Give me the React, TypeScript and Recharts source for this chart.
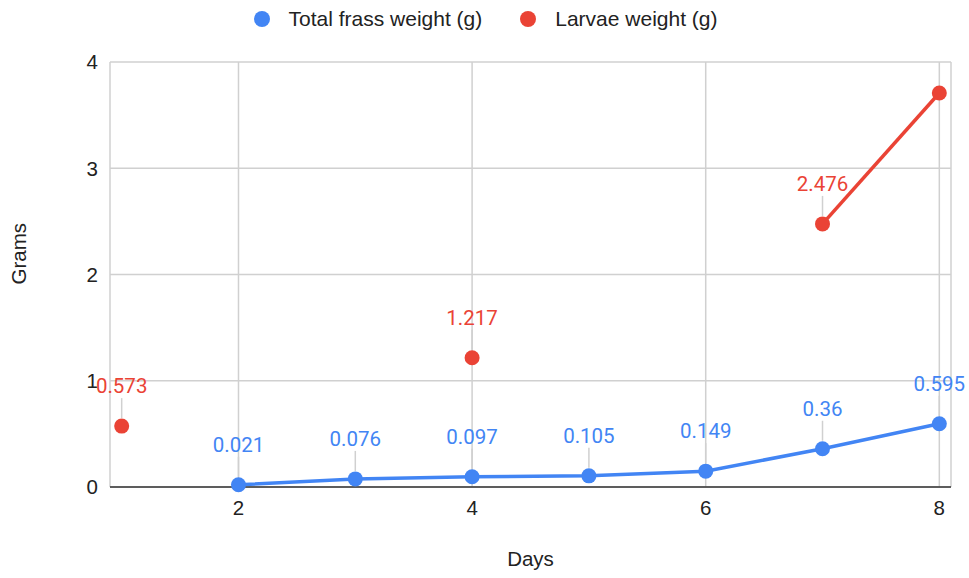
import React from "react";
import {
  CartesianGrid,
  LabelList,
  Legend,
  Line,
  LineChart,
  ReferenceLine,
  XAxis,
  YAxis,
} from "recharts";

// 일자별 분(frass) 누적 무게와 유충 무게 (g)
const days = [1, 2, 3, 4, 5, 6, 7, 8];
const frassWeight: (number | null)[] = [null, 0.021, 0.076, 0.097, 0.105, 0.149, 0.36, 0.595];
const larvaeWeight: (number | null)[] = [0.573, null, null, 1.217, null, null, 2.476, 3.708];
const seriesOrder = ["Total frass weight (g)", "Larvae weight (g)"];
const xTicks = [2, 4, 6, 8];
const yTicks = [0, 1, 2, 3, 4];

const BLUE = "#4285f4";
const RED = "#ea4335";
const PLOT_TOP = 62;

const data = days.map((d, i) => ({ day: d, frass: frassWeight[i], larvae: larvaeWeight[i] }));

const FONT = "Liberation Sans, Arial, sans-serif";
const tickFont = { fontSize: 20.5, fill: "#222", fontFamily: FONT };

// 점 위 라벨 + 회색 지시선. 위쪽에 공간이 없으면 생략
function makeLabel(color: string) {
  return (props: any) => {
    const { x, y, value } = props;
    if (value == null || y - 34 < PLOT_TOP + 8) return null;
    return (
      <g>
        <line x1={x} x2={x} y1={y - 8} y2={y - 28} stroke="#d0d0d0" strokeWidth={1.5} />
        <text x={x} y={y - 33} textAnchor="middle" fill={color} fontSize={20.5} fontFamily="Roboto, sans-serif">
          {value}
        </text>
      </g>
    );
  };
}

function LegendContent({ payload }: any) {
  const items = [...(payload ?? [])].sort(
    (a: any, b: any) => seriesOrder.indexOf(a.value) - seriesOrder.indexOf(b.value)
  );
  return (
    <div style={{ display: "flex", justifyContent: "center", alignItems: "center", gap: 38, height: 38 }}>
      {items.map((p: any) => (
        <div key={p.value} style={{ display: "flex", alignItems: "center" }}>
          <span
            style={{
              width: 16,
              height: 16,
              borderRadius: 8,
              background: p.color,
              display: "inline-block",
              marginRight: 19,
            }}
          />
          <span style={{ fontSize: 21, color: "#222", fontFamily: FONT }}>{p.value}</span>
        </div>
      ))}
    </div>
  );
}

export default function App() {
  return (
    <div style={{ position: "absolute", left: 0, top: 0, background: "#fff" }}>
      <LineChart width={969} height={578} data={data} margin={{ top: 22, right: 18, left: 20, bottom: 0 }}>
        <CartesianGrid stroke="#d0d0d0" strokeWidth={1.5} />
        <XAxis
          type="number"
          dataKey="day"
          domain={[0.9, 8.1]}
          ticks={xTicks}
          axisLine={false}
          tickLine={false}
          tick={tickFont}
          tickMargin={7}
          height={91}
          label={{ value: "Days", position: "insideBottom", offset: 12, ...tickFont }}
        />
        <YAxis
          type="number"
          domain={[0, 4]}
          ticks={yTicks}
          axisLine={false}
          tickLine={false}
          tick={tickFont}
          tickMargin={6}
          width={90}
          label={{ value: "Grams", angle: -90, position: "insideLeft", offset: -1, dy: 10, ...tickFont }}
        />
        <ReferenceLine y={0} stroke="#333" strokeWidth={1.5} />
        <Legend verticalAlign="top" height={40} wrapperStyle={{ top: 0 }} content={<LegendContent />} />
        <Line
          name="Total frass weight (g)"
          dataKey="frass"
          stroke={BLUE}
          strokeWidth={3.5}
          dot={{ r: 7.5, fill: BLUE, stroke: BLUE, strokeWidth: 0 }}
          activeDot={false}
          isAnimationActive={false}
        >
          <LabelList dataKey="frass" content={makeLabel(BLUE)} />
        </Line>
        <Line
          name="Larvae weight (g)"
          dataKey="larvae"
          stroke={RED}
          strokeWidth={3.5}
          dot={{ r: 7.5, fill: RED, stroke: RED, strokeWidth: 0 }}
          activeDot={false}
          isAnimationActive={false}
        >
          <LabelList dataKey="larvae" content={makeLabel(RED)} />
        </Line>
      </LineChart>
    </div>
  );
}
